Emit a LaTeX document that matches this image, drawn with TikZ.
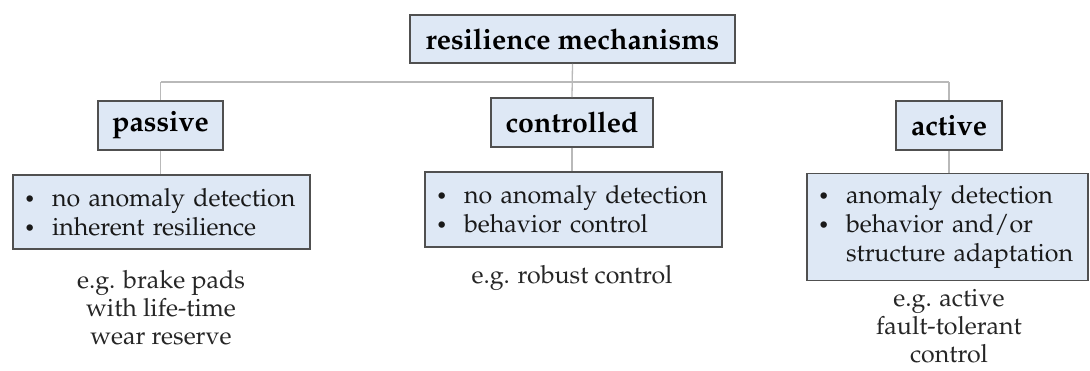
\documentclass[tikz,border=0pt]{standalone}
\usepackage[T1]{fontenc}
\usepackage{mathpazo}
\definecolor{boxfill}{RGB}{222,232,245}
\definecolor{boxline}{RGB}{80,80,80}
\definecolor{conn}{RGB}{185,185,185}
\newcommand{\bul}{\makebox[35pt][l]{\hspace{7pt}\raisebox{1pt}{\scalebox{0.75}{\textbullet}}}}
\begin{document}
\begin{tikzpicture}[x=1pt,y=-1pt,
  headbox/.style={draw=boxline, line width=1.6pt, fill=boxfill, inner sep=0pt,
    font=\fontsize{28.5}{30}\selectfont\bfseries},
  listbox/.style={draw=boxline, line width=1.6pt, fill=boxfill, inner xsep=4pt, inner ysep=0pt,
    align=left, font=\fontsize{25}{29}\selectfont, text=black!90},
  example/.style={align=center, inner sep=0pt, font=\fontsize{25}{28}\selectfont, text=black!85},
  conline/.style={draw=conn, line width=1.3pt}]
\useasboundingbox (0,0) rectangle (1090,370);
% level 0 and 1
\node[headbox, minimum width=325pt, minimum height=48pt] (top) at (572.5,39) {resilience mechanisms};
\node[headbox, minimum width=125pt, minimum height=49pt] (pas) at (160.5,125.5) {passive};
\node[headbox, minimum width=162pt, minimum height=49pt] (ctrl) at (572,122.5) {controlled};
\node[headbox, minimum width=106pt, minimum height=49pt] (act) at (949,125.5) {active};
% lists
\node[listbox, text width=289pt, minimum height=74pt] (pasb) at (161.5,212)
  {\bul no anomaly detection\\ \bul inherent resilience};
\node[listbox, text width=289pt, minimum height=75pt] (ctrlb) at (573.5,209.5)
  {\bul no anomaly detection\\ \bul behavior control};
\node[listbox, text width=273pt, minimum height=107pt] (actb) at (947.5,227)
  {\bul anomaly detection\\ \bul behavior and/or\\ \hspace*{35pt}structure adaptation};
% examples
\node[example] (pase) at (161,307.5) {e.g. brake pads\\ with life-time\\ wear reserve};
\node[example] (ctrle) at (572,278) {e.g. robust control};
\node[example] (acte) at (949,326) {e.g. active\\ fault-tolerant\\ control};
% connectors
\coordinate (hl) at (160.5,82);
\coordinate (hr) at (949,82);
\draw[conline] (hl) -- (hr);
\draw[conline] (top.south) -- (ctrl.north);
\draw[conline] (hl) -- (pas.north);
\draw[conline] (hr) -- (act.north);
\draw[conline] (pas.south) -- (pas.south |- pasb.north);
\draw[conline] (ctrl.south) -- (ctrl.south |- ctrlb.north);
\draw[conline] (act.south) -- (act.south |- actb.north);
\end{tikzpicture}
\end{document}
